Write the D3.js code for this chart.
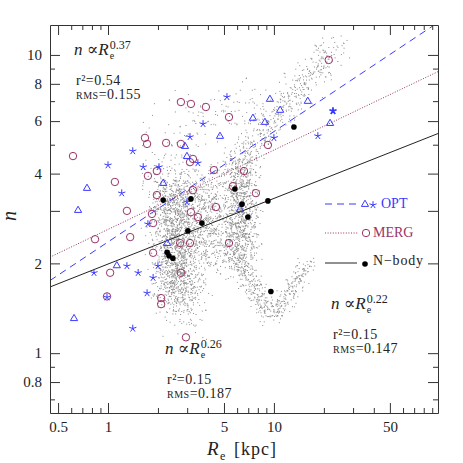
<!DOCTYPE html>
<html>
<head>
<meta charset="utf-8">
<script src="https://cdn.jsdelivr.net/npm/d3@7"></script>
<style>
  body { margin: 0; background: #fff; }
  text { font-family: "Liberation Serif", "DejaVu Serif", serif; fill: #222; }
  .axis path, .axis line { stroke: #333; stroke-width: 1; }
  .axis text { font-size: 15px; fill: #222; font-family: "Liberation Serif", serif; }
</style>
</head>
<body>
<svg width="463" height="463"></svg>
<script>

    // ---- data: Re [kpc], Sersic n ----
    var merg = [
        [0.615,4.58],[2.75,6.95],[3.16,6.85],[3.89,6.69],[5.36,6.19],[21.4,9.62],
        [1.67,5.27],[1.72,5.03],[2.24,5.07],[2.75,5.03],[3.25,4.48],[3.12,4.37],
        [9.20,4.99],[1.74,3.93],[1.97,4.08],[1.10,3.75],[4.35,4.11],[6.60,4.08],
        [1.97,3.39],[3.25,3.52],[5.66,3.63],[7.79,3.44],[1.30,3.00],[3.16,2.97],
        [3.48,2.86],[4.47,3.09],[1.84,2.93],[1.87,2.73],[0.835,2.41],[1.36,2.45],
        [1.03,1.86],[1.87,2.17],[0.986,1.55],[2.09,1.53],[2.09,1.46],[2.75,1.86],
        [2.72,2.34],[3.12,2.34],[5.36,2.34],[2.95,1.13]
    ];

    var optTri = [
        [0.747,3.58],[0.660,3.02],[2.15,3.72],[2.91,4.95],[2.99,4.58],[4.73,5.35],
        [9.46,7.12],[10.9,6.54],[7.47,6.15],[8.83,5.96],[16.0,7.01],[21.8,5.91],
        [6.24,3.04],[2.27,2.34],[1.13,1.97],[0.624,1.31]
    ];

    var optStar = [
        [5.21,7.23],[3.74,5.87],[3.12,5.31],[1.41,4.76],[1.00,4.27],[1.63,4.21],
        [2.03,4.21],[3.48,4.34],[1.21,3.44],[2.99,3.21],[1.74,2.71],[10.0,5.27],
        [22.7,6.49],[18.4,5.35],[0.823,1.86],[0.986,1.54],[1.30,1.96],[1.52,1.86],
        [2.00,1.96],[1.87,1.79],[1.72,1.59],[1.41,1.21]
    ];

    var nbody = [
        [2.15,3.26],[3.16,3.29],[3.03,2.57],[3.68,2.73],[5.82,3.55],[6.42,3.16],
        [9.20,3.24],[6.97,2.86],[13.2,5.73],[9.59,1.61],[2.27,2.18],[2.33,2.12],[2.46,2.08]
    ];

    // particle cloud, as streaks:
    // [R start, n start, R end, n end, sd in log R, sd in log n, number of dots]
    var cloud = [
        [2.53,3.66, 2.64,1.51, 0.066,0.034, 1300],
        [2.21,4.44, 2.91,1.29, 0.080,0.045, 450],
        [3.84,3.81, 4.23,2.05, 0.060,0.040, 500],
        [6.24,4.27, 6.24,2.13, 0.054,0.034, 900],
        [5.58,2.22, 9.46,1.34, 0.036,0.017, 300],
        [16.0,2.02, 10.1,1.34, 0.030,0.013, 180],
        [5.82,4.27, 23.3,10.8, 0.048,0.027, 450],
        [2.36,5.60, 9.46,7.06, 0.120,0.050, 130]
    ];

    // power-law fits n = a * Re^b
    var fitOpt = [2.36, 0.37];
    var fitMerg = [2.60, 0.266];
    var fitNbody = [1.99, 0.22];

    var xMajor = [0.5, 1, 5, 10, 50];
    var xMinor = [0.6, 0.7, 0.8, 0.9, 2, 3, 4, 6, 7, 8, 9, 20, 30, 40, 60, 70, 80, 90];
    var yMajor = [0.8, 1, 2, 3, 4, 6, 8, 10];
    var yLabels = [0.8, 1, 2, 4, 6, 8, 10];
    var yMinor = [0.7, 0.9, 5, 7, 9];

    var blue = "#3a3aff", purple = "#993366";

    var svg = d3.select("svg");
    svg.append("rect").attr("width", 463).attr("height", 463).attr("fill", "#fff");

    var pL = 50, pT = 25, pR = 438, pB = 413;

    var x = d3.scaleLog().domain([0.447, 97.5]).range([pL, pR]);
    var y = d3.scaleLog().domain([0.63, 12.6]).range([pB, pT]);

    svg.append("clipPath").attr("id", "clip")
        .append("rect").attr("x", pL).attr("y", pT)
        .attr("width", pR - pL).attr("height", pB - pT);

    var plot = svg.append("g").attr("clip-path", "url(#clip)");

    // cloud dots (deterministic low-discrepancy fill of each streak)
    function halton(i, b) {
        var f = 1, r = 0;
        while (i > 0) { f /= b; r += f * (i % b); i = Math.floor(i / b); }
        return r;
    }
    var dots = [];
    cloud.forEach(function(c, k) {
        var lr1 = Math.log10(c[0]), ln1 = Math.log10(c[1]);
        var lr2 = Math.log10(c[2]), ln2 = Math.log10(c[3]);
        for (var i = 1; i <= c[6]; i++) {
            var j = i + 53 * k;
            var t = halton(j, 2);
            var u = 2 * (halton(j, 3) + halton(j, 5) + halton(j, 7) - 1.5);
            var v = 2 * (halton(j, 11) + halton(j, 13) + halton(j, 17) - 1.5);
            dots.push([Math.pow(10, lr1 + (lr2 - lr1) * t + u * c[4]),
                       Math.pow(10, ln1 + (ln2 - ln1) * t + v * c[5])]);
        }
    });
    plot.append("g").selectAll("rect").data(dots).enter().append("rect")
        .attr("x", function(d) { return x(d[0]); })
        .attr("y", function(d) { return y(d[1]); })
        .attr("width", 1).attr("height", 1)
        .attr("fill", "#8c8c8c");

    // fit lines
    function fitLine(f) {
        var d = x.domain();
        return [[d[0], f[0] * Math.pow(d[0], f[1])], [d[1], f[0] * Math.pow(d[1], f[1])]];
    }
    var line = d3.line().x(function(d) { return x(d[0]); }).y(function(d) { return y(d[1]); });

    plot.append("path").attr("d", line(fitLine(fitNbody)))
        .attr("fill", "none").attr("stroke", "#222").attr("stroke-width", 1);
    plot.append("path").attr("d", line(fitLine(fitMerg)))
        .attr("fill", "none").attr("stroke", purple).attr("stroke-width", 1)
        .attr("stroke-dasharray", "1,1.6");
    plot.append("path").attr("d", line(fitLine(fitOpt)))
        .attr("fill", "none").attr("stroke", blue).attr("stroke-width", 1)
        .attr("stroke-dasharray", "7,5");

    // markers
    var triPath = "M0,-3.8L3.6,2.4L-3.6,2.4Z";
    var starPath = "";
    for (var a = 0; a < 5; a++) {
        var ang = (-90 + 72 * a) * Math.PI / 180;
        starPath += "M0,0L" + (3.8 * Math.cos(ang)).toFixed(2) + "," + (3.8 * Math.sin(ang)).toFixed(2);
    }

    plot.append("g").selectAll("circle").data(merg).enter().append("circle")
        .attr("cx", function(d) { return x(d[0]); })
        .attr("cy", function(d) { return y(d[1]); })
        .attr("r", 3.7)
        .attr("fill", "none").attr("stroke", purple).attr("stroke-width", 1);

    plot.append("g").selectAll("path").data(optTri).enter().append("path")
        .attr("d", triPath)
        .attr("transform", function(d) { return "translate(" + x(d[0]) + "," + y(d[1]) + ")"; })
        .attr("fill", "none").attr("stroke", blue).attr("stroke-width", 1);

    plot.append("g").selectAll("path").data(optStar).enter().append("path")
        .attr("d", starPath)
        .attr("transform", function(d) { return "translate(" + x(d[0]) + "," + y(d[1]) + ")"; })
        .attr("fill", "none").attr("stroke", blue)
        .attr("stroke-width", function(d, i) { return i == 12 ? 1.8 : 1; });

    plot.append("g").selectAll("circle").data(nbody).enter().append("circle")
        .attr("cx", function(d) { return x(d[0]); })
        .attr("cy", function(d) { return y(d[1]); })
        .attr("r", 2.8).attr("fill", "#000");

    // axes, ticks pointing inward on all four sides
    function fmtY(d) { return yLabels.indexOf(d) >= 0 ? d : ""; }
    function noDomain(g) { g.select(".domain").remove(); }

    svg.append("g").attr("class", "axis").attr("transform", "translate(0," + pB + ")")
        .call(d3.axisBottom(x).tickValues(xMajor).tickSize(-10).tickSizeOuter(0).tickPadding(8).tickFormat(d3.format("")));
    svg.append("g").attr("class", "axis").attr("transform", "translate(0," + pB + ")")
        .call(d3.axisBottom(x).tickValues(xMinor).tickSize(-5).tickFormat("")).call(noDomain);
    svg.append("g").attr("class", "axis").attr("transform", "translate(0," + pT + ")")
        .call(d3.axisTop(x).tickValues(xMajor).tickSize(-10).tickSizeOuter(0).tickFormat(""));
    svg.append("g").attr("class", "axis").attr("transform", "translate(0," + pT + ")")
        .call(d3.axisTop(x).tickValues(xMinor).tickSize(-5).tickFormat("")).call(noDomain);

    svg.append("g").attr("class", "axis").attr("transform", "translate(" + pL + ",0)")
        .call(d3.axisLeft(y).tickValues(yMajor).tickSize(-10).tickSizeOuter(0).tickPadding(8).tickFormat(fmtY));
    svg.append("g").attr("class", "axis").attr("transform", "translate(" + pL + ",0)")
        .call(d3.axisLeft(y).tickValues(yMinor).tickSize(-5).tickFormat("")).call(noDomain);
    svg.append("g").attr("class", "axis").attr("transform", "translate(" + pR + ",0)")
        .call(d3.axisRight(y).tickValues(yMajor).tickSize(-10).tickSizeOuter(0).tickFormat(""));
    svg.append("g").attr("class", "axis").attr("transform", "translate(" + pR + ",0)")
        .call(d3.axisRight(y).tickValues(yMinor).tickSize(-5).tickFormat("")).call(noDomain);

    // axis titles
    svg.append("text").attr("x", 207).attr("y", 455).attr("font-size", 19)
        .attr("font-style", "italic").text("R");
    svg.append("text").attr("x", 220).attr("y", 460).attr("font-size", 12).text("e");
    svg.append("text").attr("x", 234).attr("y", 455).attr("font-size", 18)
        .attr("letter-spacing", 1).text("[kpc]");
    svg.append("text").attr("transform", "translate(16,216) rotate(-90)")
        .attr("text-anchor", "middle").attr("font-size", 20)
        .attr("font-style", "italic").text("n");

    // relation labels
    function powLabel(x0, y0, expo, r2, rms) {
        var t = svg.append("text").attr("x", x0).attr("y", y0).attr("font-size", 17);
        t.append("tspan").attr("font-style", "italic").text("n");
        t.append("tspan").text(" \u221D");
        t.append("tspan").attr("font-style", "italic").text("R");
        var w = t.node().getComputedTextLength();
        svg.append("text").attr("x", x0 + w + 1).attr("y", y0 - 6).attr("font-size", 12).text(expo);
        svg.append("text").attr("x", x0 + w + 1).attr("y", y0 + 4).attr("font-size", 10).text("e");

        svg.append("text").attr("x", x0 + 2).attr("y", y0 + 30).attr("font-size", 14)
            .attr("letter-spacing", 0.5).text("r\u00B2=" + r2);
        var s = svg.append("text").attr("x", x0 + 2).attr("y", y0 + 44).attr("font-size", 14)
            .attr("letter-spacing", 0.5);
        s.append("tspan").attr("font-size", 10).text("RMS");
        s.append("tspan").text("=" + rms);
    }
    powLabel(74, 55, "0.37", "0.54", "0.155");
    powLabel(165, 354, "0.26", "0.15", "0.187");
    powLabel(331, 309, "0.22", "0.15", "0.147");

    // legend
    var lg = svg.append("g");
    lg.append("line").attr("x1", 325).attr("x2", 358).attr("y1", 204).attr("y2", 204)
        .attr("stroke", blue).attr("stroke-dasharray", "7,5");
    lg.append("path").attr("d", triPath).attr("transform", "translate(365,204)")
        .attr("fill", "none").attr("stroke", blue);
    lg.append("path").attr("d", starPath).attr("transform", "translate(373,205)")
        .attr("fill", "none").attr("stroke", blue);
    lg.append("text").attr("x", 381).attr("y", 208).attr("font-size", 14)
        .style("fill", blue).text("OPT");

    lg.append("line").attr("x1", 325).attr("x2", 358).attr("y1", 233).attr("y2", 233)
        .attr("stroke", purple).attr("stroke-dasharray", "1,1.6");
    lg.append("circle").attr("cx", 366).attr("cy", 233).attr("r", 3.7)
        .attr("fill", "none").attr("stroke", purple);
    lg.append("text").attr("x", 373).attr("y", 237).attr("font-size", 14)
        .style("fill", purple).text("MERG");

    lg.append("line").attr("x1", 325).attr("x2", 357).attr("y1", 263).attr("y2", 263)
        .attr("stroke", "#222");
    lg.append("circle").attr("cx", 365).attr("cy", 264).attr("r", 2.8).attr("fill", "#000");
    lg.append("text").attr("x", 373).attr("y", 265).attr("font-size", 14)
        .attr("letter-spacing", 0.8).text("N\u2212body");

</script>
</body>
</html>
